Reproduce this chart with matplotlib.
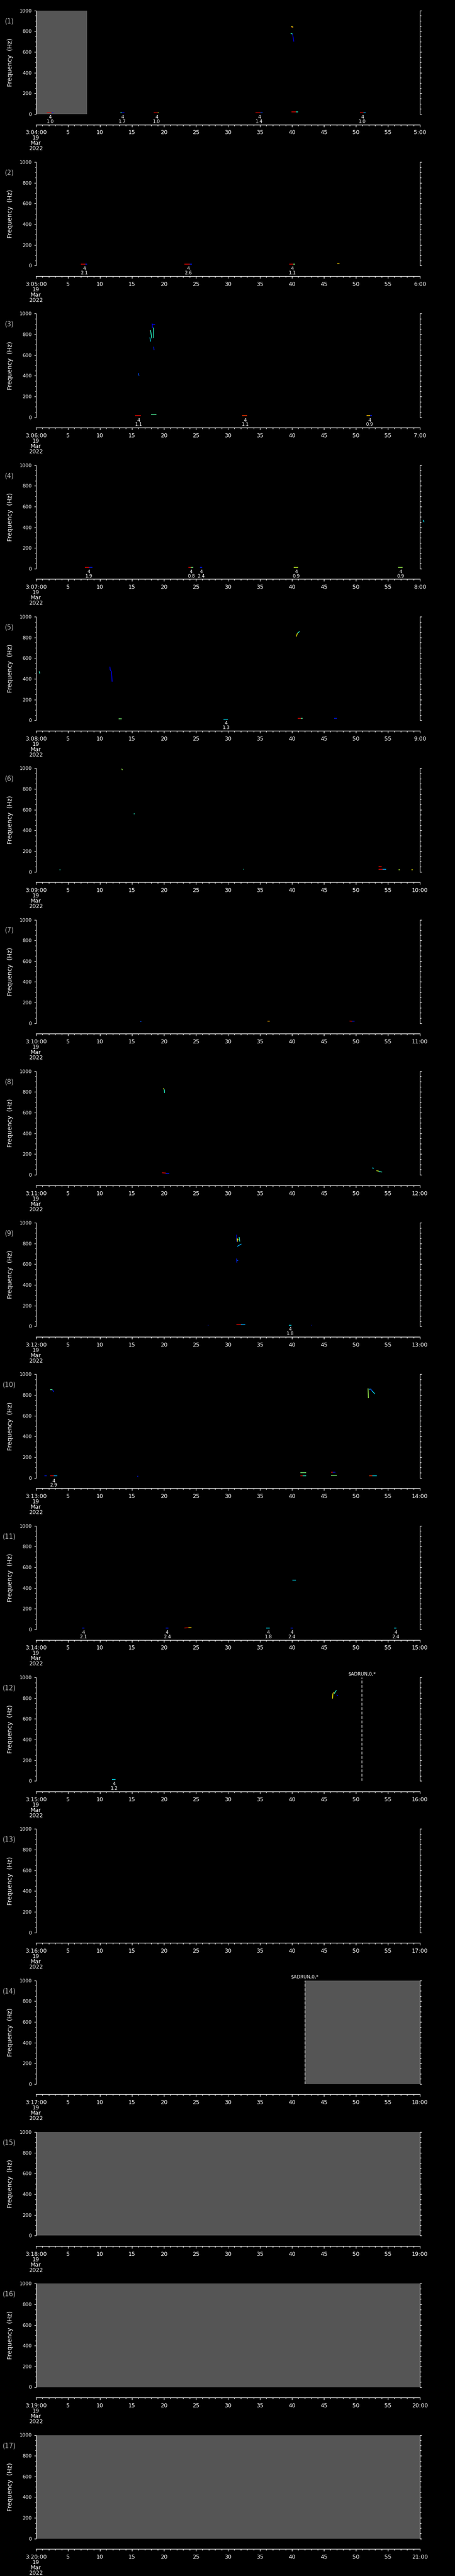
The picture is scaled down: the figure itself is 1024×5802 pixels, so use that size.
#!/usr/bin/env python3
"""Hourly spectrogram pages, 19 Mar 2022, hours 04-20 (17 panels)."""
import numpy as np
import matplotlib; matplotlib.use("Agg")
import matplotlib.pyplot as plt
from matplotlib.ticker import MultipleLocator

W, H = 1024, 5802
HOURS = list(range(4, 21))          # panel (1) = 04:00 ... panel (17) = 20:00

# event picks: (panel, minute, magnitude) -> drawn as "4 / mag" under the panel
EVENTS = [
    (1, 2.2, "1.0"), (1, 13.5, "1.7"), (1, 18.85, "1.0"), (1, 34.9, "1.4"), (1, 51.0, "1.0"),
    (2, 7.57, "2.1"), (2, 23.8, "2.6"), (2, 40.05, "1.1"),
    (3, 16.04, "1.1"), (3, 32.7, "1.1"), (3, 52.15, "0.9"),
    (4, 8.25, "1.9"), (4, 24.25, "0.8"), (4, 25.8, "2.4"), (4, 40.7, "0.9"), (4, 57.0, "0.9"),
    (5, 29.7, "1.3"),
    (9, 39.7, "1.8"),
    (10, 2.76, "2.9"),
    (11, 7.43, "2.1"), (11, 20.5, "2.4"), (11, 36.3, "1.8"), (11, 40.0, "2.4"), (11, 56.2, "2.4"),
    (12, 12.2, "1.2"),
]

# spectrogram traces: (panel, t0 [min], t1 [min], f0 [Hz], f1 [Hz], colour level 0-1 on jet)
BLIPS = [
    (1, 1.7, 2.4, 14, 14, 0.9), (1, 2.4, 2.7, 14, 14, 0.15),
    (1, 13.2, 13.4, 14, 14, 0.4), (1, 13.4, 13.8, 14, 14, 0.12),
    (1, 18.4, 19.0, 14, 14, 0.9), (1, 19.0, 19.2, 14, 14, 0.6),
    (1, 34.3, 35.1, 14, 14, 0.9), (1, 35.1, 35.4, 14, 14, 0.2),
    (1, 39.9, 40.6, 23, 23, 0.9), (1, 40.6, 41.0, 23, 23, 0.4),
    (1, 50.6, 51.2, 14, 14, 0.9), (1, 51.2, 51.5, 14, 14, 0.3),
    (1, 39.9, 40.2, 850, 838, 0.62), (1, 39.95, 40.15, 842, 842, 0.78),
    (1, 39.8, 40.1, 778, 774, 0.4), (1, 40.1, 40.3, 774, 700, 0.1),
    (2, 7.0, 7.7, 14, 14, 0.9), (2, 7.7, 8.0, 14, 14, 0.15),
    (2, 23.2, 24.0, 14, 14, 0.9), (2, 24.0, 24.4, 14, 14, 0.15),
    (2, 39.6, 40.2, 14, 14, 0.9), (2, 40.2, 40.5, 14, 14, 0.5),
    (2, 47.1, 47.4, 20, 20, 0.68),
    (3, 15.5, 16.4, 16, 16, 0.9), (3, 32.2, 33.0, 16, 16, 0.85),
    (3, 51.7, 52.2, 16, 16, 0.7), (3, 52.2, 52.5, 16, 16, 0.15),
    (3, 18.0, 18.8, 23, 23, 0.45),
    (3, 18.15, 18.2, 905, 860, 0.12), (3, 18.2, 18.6, 892, 892, 0.12),
    (3, 17.8, 17.9, 770, 730, 0.35), (3, 17.9, 18.1, 840, 760, 0.4),
    (3, 17.75, 17.85, 832, 832, 0.9), (3, 18.35, 18.4, 865, 765, 0.4),
    (3, 18.4, 18.45, 680, 648, 0.15), (3, 16.0, 16.1, 425, 400, 0.2),
    (4, 7.65, 8.3, 11, 11, 0.9), (4, 8.3, 8.85, 11, 11, 0.15),
    (4, 23.8, 24.2, 11, 11, 0.9), (4, 24.2, 24.6, 11, 11, 0.5),
    (4, 25.6, 26.0, 11, 11, 0.15),
    (4, 40.3, 41.0, 11, 11, 0.6), (4, 56.6, 57.3, 11, 11, 0.55),
    (4, 60.5, 60.65, 470, 449, 0.35),
    (5, 0.5, 0.6, 472, 450, 0.4),
    (5, 11.55, 11.6, 517, 485, 0.12), (5, 11.6, 11.8, 485, 470, 0.12), (5, 11.8, 11.9, 470, 372, 0.12),
    (5, 40.7, 40.85, 808, 840, 0.65), (5, 40.85, 41.2, 840, 857, 0.4),
    (5, 12.9, 13.4, 13, 13, 0.5), (5, 29.3, 30.0, 11, 11, 0.35),
    (5, 40.9, 41.4, 20, 20, 0.9), (5, 41.4, 41.7, 20, 20, 0.45),
    (5, 46.6, 47.0, 20, 20, 0.15),
    (6, 13.4, 13.5, 995, 982, 0.55), (6, 15.3, 15.4, 560, 560, 0.4),
    (6, 3.7, 3.8, 20, 20, 0.4), (6, 32.35, 32.45, 23, 23, 0.4),
    (6, 53.55, 54.0, 50, 50, 0.9), (6, 53.55, 54.2, 23, 23, 0.9), (6, 54.2, 54.7, 23, 23, 0.3),
    (6, 56.7, 56.9, 20, 20, 0.58), (6, 58.7, 58.9, 20, 20, 0.65),
    (7, 16.35, 16.45, 18, 18, 0.2), (7, 36.2, 36.5, 20, 20, 0.72),
    (7, 49.0, 49.4, 22, 20, 0.9), (7, 49.4, 49.8, 20, 20, 0.15),
    (8, 19.9, 20.0, 835, 825, 0.62), (8, 20.05, 20.1, 825, 790, 0.4),
    (8, 19.7, 20.3, 20, 17, 0.9), (8, 20.3, 20.85, 15, 15, 0.15),
    (8, 52.55, 52.8, 67, 63, 0.35), (8, 53.2, 53.6, 40, 35, 0.6), (8, 53.6, 54.1, 32, 27, 0.4),
    (9, 31.35, 31.4, 885, 815, 0.12), (9, 31.4, 31.7, 838, 838, 0.65),
    (9, 31.45, 31.5, 850, 818, 0.65), (9, 31.75, 31.85, 862, 818, 0.4),
    (9, 31.45, 32.1, 772, 795, 0.3), (9, 31.35, 31.4, 655, 615, 0.15), (9, 31.4, 31.6, 635, 635, 0.2),
    (9, 31.35, 32.0, 20, 20, 0.9), (9, 32.0, 32.7, 20, 20, 0.3),
    (9, 26.85, 26.95, 11, 11, 0.15), (9, 39.5, 39.9, 11, 11, 0.35), (9, 43.05, 43.15, 11, 11, 0.15),
    (10, 2.25, 2.6, 853, 853, 0.45), (10, 2.6, 2.75, 850, 830, 0.15),
    (10, 51.9, 51.95, 864, 770, 0.55), (10, 52.0, 52.3, 857, 857, 0.3),
    (10, 52.3, 52.55, 862, 835, 0.2), (10, 52.55, 52.95, 840, 810, 0.35),
    (10, 1.3, 1.7, 20, 20, 0.15), (10, 2.2, 2.8, 20, 20, 0.9), (10, 2.8, 3.3, 20, 20, 0.3),
    (10, 15.85, 15.95, 15, 15, 0.15),
    (10, 41.3, 42.2, 51, 51, 0.5), (10, 41.3, 41.7, 22, 22, 0.9), (10, 41.7, 42.2, 22, 22, 0.4),
    (10, 46.1, 46.4, 54, 54, 0.9), (10, 46.4, 46.8, 54, 54, 0.15), (10, 46.1, 47.0, 25, 25, 0.5),
    (10, 52.05, 52.6, 20, 20, 0.85), (10, 52.6, 53.25, 20, 20, 0.35),
    (11, 7.2, 7.6, 13, 13, 0.15), (11, 20.3, 20.7, 13, 13, 0.15),
    (11, 35.95, 36.5, 13, 13, 0.35), (11, 39.8, 40.15, 13, 13, 0.15), (11, 56.0, 56.3, 13, 13, 0.35),
    (11, 23.2, 23.8, 14, 16, 0.9), (11, 23.8, 24.3, 16, 16, 0.68),
    (11, 40.05, 40.6, 475, 475, 0.35),
    (12, 11.9, 12.45, 15, 15, 0.35),
    (12, 46.35, 46.4, 795, 845, 0.65), (12, 46.4, 46.7, 848, 848, 0.7),
    (12, 46.6, 46.95, 843, 875, 0.4), (12, 47.0, 47.2, 833, 820, 0.12),
]

# no-data (grey) stretches: (panel, t0, t1)
GAPS = [(1, 0, 8.0), (14, 42.0, 60), (15, 0, 60), (16, 0, 60), (17, 0, 60)]

# dashed state markers: (panel, minute, label)
MARKERS = [(12, 50.9, "$ADRUN,0,*"), (14, 42.0, "$ADRUN,0,*")]

plt.rcParams["font.family"] = "DejaVu Sans"
fig = plt.figure(figsize=(W / 100, H / 100), dpi=100, facecolor="black")
cmap = plt.get_cmap("jet")
X0, XW, PH, PITCH, TOP0 = 81, 864, 233.3, 341.3, 23.7

for i, h in enumerate(HOURS):
    p = i + 1
    top = TOP0 + i * PITCH
    ax = fig.add_axes([X0 / W, 1 - (top + PH) / H, XW / W, PH / H])
    ax.set_facecolor("black")
    ax.set_xlim(0, 60); ax.set_ylim(0, 1000)
    for s in ("top", "bottom"):
        ax.spines[s].set_visible(False)
    for s in ("left", "right"):
        ax.spines[s].set_color("white"); ax.spines[s].set_linewidth(0.9)
    ax.set_xticks([])
    ax.yaxis.set_major_locator(MultipleLocator(200))
    ax.yaxis.set_minor_locator(MultipleLocator(50))
    ax.tick_params(axis="y", which="both", colors="white", direction="out",
                   left=True, right=True, labelright=False, width=0.9)
    ax.tick_params(axis="y", which="major", length=3.2, pad=3.5, labelsize=8)
    ax.tick_params(axis="y", which="minor", length=1.8)

    for g in GAPS:
        if g[0] == p:
            ax.axvspan(g[1], g[2], color="#555555", lw=0, zorder=0)
    for b in BLIPS:
        if b[0] == p:
            ax.plot([b[1], b[2]], [b[3], b[4]], color=cmap(b[5]), lw=1.1,
                    solid_capstyle="butt", clip_on=False, zorder=3)
    for e in EVENTS:
        if e[0] == p:
            ax.annotate(f"4\n{e[2]}", (e[1], 0), xytext=(0, -1.5), textcoords="offset points",
                        ha="center", va="top", fontsize=7.5, color="white",
                        linespacing=0.95, annotation_clip=False)
    for m in MARKERS:
        if m[0] == p:
            ax.axvline(m[1], color="white", lw=0.9, dashes=(5, 3), zorder=4)
            ax.annotate(m[2], (m[1], 1000), xytext=(0, 2), textcoords="offset points",
                        ha="center", va="bottom", fontsize=7.5, color="white",
                        annotation_clip=False)

    fig.text(23 / W, 1 - (top + PH / 2) / H, "Frequency  (Hz)", rotation=90,
             ha="center", va="center", color="white", fontsize=10)
    fig.text(21 / W, 1 - (top + 24) / H, f"({p})", ha="center", va="center",
             color="#b4b4b4", fontsize=10.5)

    # separate time axis below the panel
    tax = fig.add_axes([X0 / W, 1 - (top + PH + 23.5) / H, XW / W, 0.00001])
    tax.set_facecolor("none")
    tax.set_xlim(0, 60); tax.set_yticks([])
    for s in ("top", "left", "right"):
        tax.spines[s].set_visible(False)
    tax.spines["bottom"].set_color("white"); tax.spines["bottom"].set_linewidth(1.0)
    ticks = list(range(0, 61, 5))
    labels = [f"3:{h:02d}:00\n19\nMar\n2022"] + [str(t) for t in ticks[1:-1]] + [f"{h + 1}:00"]
    tax.set_xticks(ticks); tax.set_xticklabels(labels)
    tax.xaxis.set_minor_locator(MultipleLocator(1))
    tax.tick_params(axis="x", which="both", colors="white", direction="out", width=0.9)
    tax.tick_params(axis="x", which="major", length=3.6, pad=5.0, labelsize=9)
    tax.tick_params(axis="x", which="minor", length=2.0)
    for lab in tax.get_xticklabels():
        lab.set_linespacing(0.9)

fig.savefig("out.png", dpi=100, facecolor="black")
